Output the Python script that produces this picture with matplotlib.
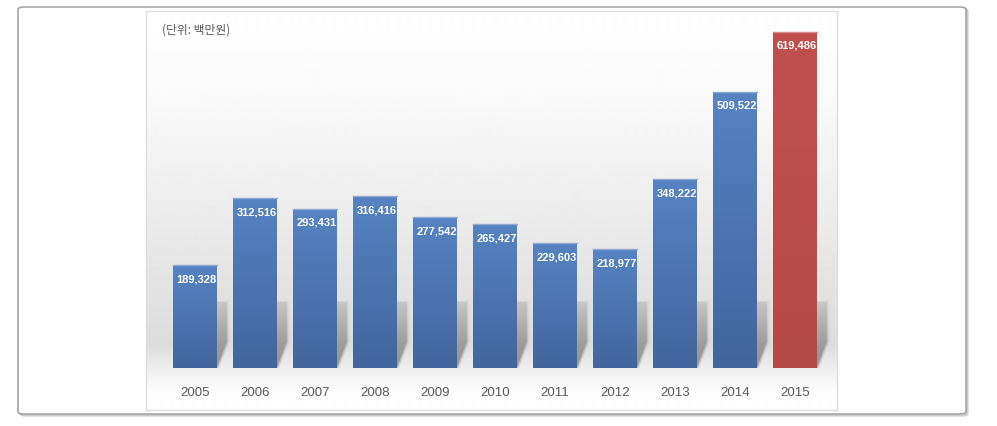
"""Annual amounts 2005-2015 bar chart (unit: million won)."""
import numpy as np
import matplotlib
matplotlib.use("Agg")
import matplotlib.pyplot as plt
import matplotlib.patches as patches
from matplotlib.path import Path

years = ['2005', '2006', '2007', '2008', '2009', '2010',
         '2011', '2012', '2013', '2014', '2015']
values = [189328, 312516, 293431, 316416, 277542, 265427,
          229603, 218977, 348222, 509522, 619486]
value_labels = ['189,328', '312,516', '293,431', '316,416', '277,542', '265,427',
                '229,603', '218,977', '348,222', '509,522', '619,486']
unit_label = '(단위: 백만원)'

W, H = 997, 426
fig = plt.figure(figsize=(W / 100, H / 100), dpi=100)
fig.patch.set_facecolor('white')

def fx(px):
    return px / W

def fy(py):
    return 1 - py / H

# outer frame with a soft shadow
for off, col in [(2, '#dcdcdc'), (1, '#c4c4c4')]:
    fig.patches.append(patches.FancyBboxPatch(
        (fx(18 + off), fy(414 + off)), fx(948), (414 - 7) / H,
        boxstyle="round,pad=0,rounding_size=0.006", transform=fig.transFigure,
        facecolor='none', edgecolor=col, linewidth=1.2, zorder=-2))
fig.patches.append(patches.FancyBboxPatch(
    (fx(18), fy(414)), fx(948), (414 - 7) / H,
    boxstyle="round,pad=0,rounding_size=0.006", transform=fig.transFigure,
    facecolor='white', edgecolor='#a6a6a6', linewidth=1.2, zorder=-1))

# inner chart panel with vertical gradient
p_left, p_right, p_top, p_bot = 146, 837, 11, 410
bg = fig.add_axes([fx(p_left), fy(p_bot), fx(p_right - p_left), (p_bot - p_top) / H])
rows = np.arange(p_top, p_bot)
stops_px = [11, 90, 200, 290, 345, 370, 390, 410]
stops_v = [254, 250, 238, 226, 220, 240, 252, 254]
grey = np.interp(rows, stops_px, stops_v) / 255.0
grad = np.repeat(grey[:, None], 2, axis=1)
bg.imshow(grad, cmap='gray', vmin=0, vmax=1, aspect='auto',
          extent=[0, 1, 0, 1], interpolation='bilinear')
bg.set_xticks([])
bg.set_yticks([])
for s in bg.spines.values():
    s.set_color('#dedede')
    s.set_linewidth(1)

# main axes: baseline at pixel 368, 2005..2015 centred at 195 + 60*i
base_px = 368
ax = fig.add_axes([fx(p_left), fy(base_px), fx(p_right - p_left), (base_px - p_top) / H])
ax.patch.set_alpha(0)
ymax = max(values) * (base_px - p_top) / (base_px - 32)
px_to_val = ymax / (base_px - p_top)
x = np.arange(len(years))
width = 0.72

# soft perspective shadows behind bars
dx = 0.17
h1, h2 = 26 * px_to_val, 66 * px_to_val
alpha_col = np.linspace(0.42, 0.08, 64)[:, None]
shadow_rgba = np.zeros((64, 2, 4))
shadow_rgba[..., :3] = 0.35
shadow_rgba[..., 3] = np.repeat(alpha_col, 2, axis=1)
for xi in x:
    L, R = xi - width / 2, xi + width / 2
    for grow, fade in [(0.04, 0.35), (0.02, 0.5), (0.0, 1.0)]:
        verts = [(L, 0), (R + grow, 0), (R + dx + grow, h1),
                 (R + dx + grow, h2 + grow * ymax * 0.1),
                 (L + dx, h2 + grow * ymax * 0.1), (L, 0)]
        path = Path(verts)
        rgba = shadow_rgba.copy()
        rgba[..., 3] *= fade
        im = ax.imshow(rgba, aspect='auto', origin='lower', zorder=1,
                       extent=[L, R + dx + 0.1, 0, h2 * 1.1],
                       interpolation='bilinear')
        im.set_clip_path(path, transform=ax.transData)

bar_colors = ['#4f7bba'] * (len(years) - 1) + ['#c0504d']
grad_pairs = {'#4f7bba': ('#5683c2', '#41669d'),
              '#c0504d': ('#c0504d', '#b44a47')}
bars = ax.bar(x, values, width=width, color=bar_colors, zorder=2,
              edgecolor='none')
for b, c in zip(bars, bar_colors):
    top, bot = grad_pairs[c]
    cm = matplotlib.colors.LinearSegmentedColormap.from_list('g', [bot, top])
    g = np.linspace(0, 1, 64)[:, None]
    im = ax.imshow(g, cmap=cm, aspect='auto', origin='lower', zorder=3,
                   extent=[b.get_x(), b.get_x() + b.get_width(), 0, b.get_height()])
    im.set_clip_path(b)
    ax.plot([b.get_x(), b.get_x() + b.get_width()], [b.get_height()] * 2,
            color='#8fa9d4' if c == '#4f7bba' else '#d88a88', lw=1, zorder=4)
ax.set_ylim(0, ymax)
ax.set_xlim((p_left - 195) / 60, (p_right - 195) / 60)

# value labels inside bar tops
for xi, v, lab in zip(x, values, value_labels):
    ax.text(xi + 0.03, v - 14 * px_to_val, lab, ha='center', va='center',
            color='white', fontsize=8, fontweight='bold',
            family='Liberation Sans', zorder=5)

ax.set_xticks(x)
ax.set_xticklabels(years, fontsize=9.5, color='#595959', family='Liberation Sans')
ax.tick_params(axis='x', length=0, pad=14)
ax.set_yticks([])
for s in ax.spines.values():
    s.set_visible(False)

fig.text(fx(162), fy(30), unit_label, fontsize=8.5, color='#595959',
         family=['Noto Sans CJK KR', 'DejaVu Sans'], va='center', ha='left')

fig.savefig('out.png', dpi=100)
